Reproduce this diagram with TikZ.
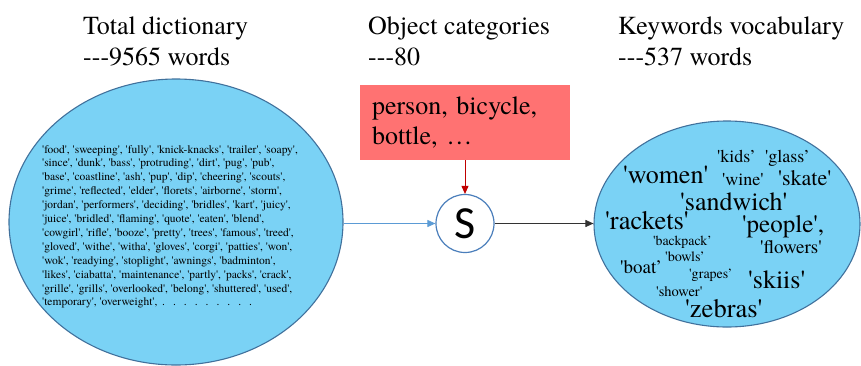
\documentclass[tikz,border=0pt]{standalone}
\usepackage{fontspec}
\setmainfont{texgyretermes-regular.otf}
\newfontfamily\carl{Carlito}
\usetikzlibrary{arrows.meta,shapes.geometric}
\definecolor{ellfill}{HTML}{7AD2F5}
\definecolor{elldraw}{HTML}{41719C}
\definecolor{boxred}{HTML}{FF7272}
\definecolor{arrred}{HTML}{C00000}
\definecolor{arrblue}{HTML}{5B9BD5}
\definecolor{circdraw}{HTML}{4A7EBB}
\newcommand{\sq}{\textquotesingle}
\begin{document}
\begin{tikzpicture}[x=1pt,y=-1pt,
  head/.style={anchor=base west,inner sep=0,font=\rmfamily\fontsize{26}{30}\selectfont},
  cloud/.style={ellipse,draw=elldraw,fill=ellfill,line width=1.1pt,inner sep=0},
  dictline/.style={anchor=base west,inner sep=0,font=\rmfamily\fontsize{11.5}{13.9}\selectfont},
  kw/.style={anchor=base west,inner sep=0},
  arr/.style={line width=0.9pt,-{Triangle[length=8pt,width=7pt]}}]
\useasboundingbox (0,0) rectangle (861,365);

% headings
\node[head] (h1a) at (83,34) {Total dictionary};
\node[head] (h1b) at (83,65) {-{}-{}-9565 words};
\node[head] (h2a) at (368,34) {Object categories};
\node[head] (h2b) at (368,65) {-{}-{}-80};
\node[head] (h3a) at (618,34) {Keywords vocabulary};
\node[head] (h3b) at (618,65) {-{}-{}-537 words};

% left ellipse
\node[cloud,minimum width=334pt,minimum height=286pt] (dict) at (176,222) {};
\foreach \t [count=\i from 0] in {
  {\sq food\sq, \sq sweeping\sq, \sq fully\sq, \sq knick-knacks\sq, \sq trailer\sq, \sq soapy\sq,},
  {\sq since\sq, \sq dunk\sq, \sq bass\sq, \sq protruding\sq, \sq dirt\sq, \sq pug\sq, \sq pub\sq,},
  {\sq base\sq, \sq coastline\sq, \sq ash\sq, \sq pup\sq, \sq dip\sq, \sq cheering\sq, \sq scouts\sq,},
  {\sq grime\sq, \sq reflected\sq, \sq elder\sq, \sq florets\sq, \sq airborne\sq, \sq storm\sq,},
  {\sq jordan\sq, \sq performers\sq, \sq deciding\sq, \sq bridles\sq, \sq kart\sq, \sq juicy\sq,},
  {\sq juice\sq, \sq bridled\sq, \sq flaming\sq, \sq quote\sq, \sq eaten\sq, \sq blend\sq,},
  {\sq cowgirl\sq, \sq rifle\sq, \sq booze\sq, \sq pretty\sq, \sq trees\sq, \sq famous\sq, \sq treed\sq,},
  {\sq gloved\sq, \sq withe\sq, \sq witha\sq, \sq gloves\sq, \sq corgi\sq, \sq patties\sq, \sq won\sq,},
  {\sq wok\sq, \sq readying\sq, \sq stoplight\sq, \sq awnings\sq, \sq badminton\sq,},
  {\sq likes\sq, \sq ciabatta\sq, \sq maintenance\sq, \sq partly\sq, \sq packs\sq, \sq crack\sq,},
  {\sq grille\sq, \sq grills\sq, \sq overlooked\sq, \sq belong\sq, \sq shuttered\sq, \sq used\sq,},
  {\sq temporary\sq, \sq overweight\sq, \,.\hspace{8pt}.\hspace{8pt}.\hspace{8pt}.\hspace{8pt}.\hspace{8pt}.\hspace{8pt}.\hspace{8pt}.\hspace{8pt}.}}
  \node[dictline] (d\i) at (42,{153+13.9*\i}) {\t};

% red box
\node[fill=boxred,minimum width=210pt,minimum height=75pt,inner xsep=12pt,inner ysep=0,
      text width=186pt,align=left,font=\rmfamily\fontsize{26}{30}\selectfont] (cat) at (465,122.5)
      {person, bicycle,\\bottle, …};

% S circle
\node[circle,draw=circdraw,fill=white,line width=1.2pt,minimum size=58pt,inner sep=0,
      font=\carl\fontsize{46}{46}\selectfont] (S) at (465,223.5) {S};

% right ellipse
\node[cloud,minimum width=266pt,minimum height=206pt] (vocab) at (727,224) {};
\node[kw,font=\rmfamily\fontsize{18}{18}\selectfont] (k1) at (717,162) {\sq kids’};
\node[kw,font=\rmfamily\fontsize{18}{18}\selectfont] (k2) at (765,162) {\sq glass’};
\node[kw,font=\rmfamily\fontsize{26}{26}\selectfont] (k3) at (623,183) {\sq women\sq};
\node[kw,font=\rmfamily\fontsize{18}{18}\selectfont] (k4) at (722,185) {\sq wine\sq};
\node[kw,font=\rmfamily\fontsize{22}{22}\selectfont] (k5) at (778,185) {\sq skate\sq};
\node[kw,font=\rmfamily\fontsize{26}{26}\selectfont] (k6) at (680,210) {\sq sandwich\sq};
\node[kw,font=\rmfamily\fontsize{26.5}{26}\selectfont] (k7) at (605,229) {\sq rackets\sq};
\node[kw,font=\rmfamily\fontsize{25}{25}\selectfont] (k8) at (742,232) {\sq people\sq,};
\node[kw,font=\rmfamily\fontsize{13.8}{14}\selectfont] (k9) at (653,245) {\sq backpack’};
\node[kw,font=\rmfamily\fontsize{19}{19}\selectfont] (k10) at (760,253) {\sq flowers\sq};
\node[kw,font=\rmfamily\fontsize{14.2}{14}\selectfont] (k11) at (665,261) {\sq bowls’};
\node[kw,font=\rmfamily\fontsize{19}{19}\selectfont] (k12) at (620,273) {\sq boat’};
\node[kw,font=\rmfamily\fontsize{14}{14}\selectfont] (k13) at (689,278) {\sq grapes’};
\node[kw,font=\rmfamily\fontsize{26}{26}\selectfont] (k14) at (748,288) {\sq skiis\sq};
\node[kw,font=\rmfamily\fontsize{14.5}{14}\selectfont] (k15) at (656,296) {\sq shower\sq};
\node[kw,font=\rmfamily\fontsize{26.5}{26}\selectfont] (k16) at (685,317) {\sq zebras\sq};

% connectors
\draw[arr,arrred] (cat.south) -- (S.north);
\draw[arr,arrblue] (S.west -| dict.east) -- (S.west);
\draw[arr,black!80] (S.east) -- (S.east -| vocab.west);
\end{tikzpicture}
\end{document}
